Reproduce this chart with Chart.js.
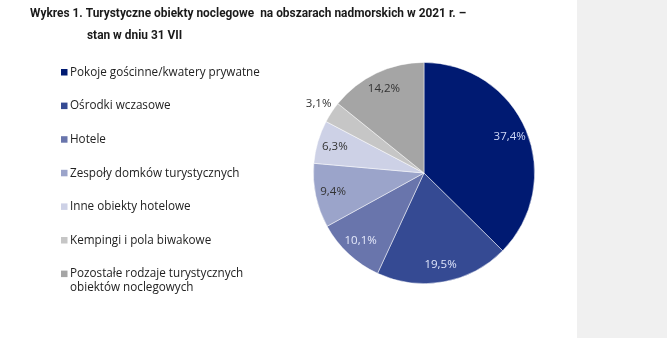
<!DOCTYPE html>
<html lang="pl">
<head>
<meta charset="utf-8">
<script src="https://cdn.jsdelivr.net/npm/chart.js@4"></script>
<style>
    html, body { margin: 0; padding: 0; background: #ffffff; }
    #wrap { position: relative; width: 667px; height: 338px; overflow: hidden; }
    #panel { position: absolute; left: 577px; top: 0; width: 90px; height: 338px; background: #f0f0f0; }
    #wykres { position: absolute; left: 0; top: 0; }
</style>
</head>
<body>
<div id="wrap">
    <div id="panel"></div>
    <canvas id="wykres" width="667" height="338"></canvas>
</div>
<script>
const kategorie = [
    'Pokoje gościnne/kwatery prywatne',
    'Ośrodki wczasowe',
    'Hotele',
    'Zespoły domków turystycznych',
    'Inne obiekty hotelowe',
    'Kempingi i pola biwakowe',
    ['Pozostałe rodzaje turystycznych', 'obiektów noclegowych']
];
const udzial = [37.4, 19.5, 10.1, 9.4, 6.3, 3.1, 14.2];
const kolory = ['#001a72', '#354a93', '#6975ac', '#9ba4ca', '#cdd1e6', '#c6c6c6', '#a5a5a5'];
const koloryEtykiet = ['#cfd8f6', '#dfe5fb', '#e6eafb', '#333333', '#333333', '#333333', '#333333'];
const tytul = [
    'Wykres 1. Turystyczne obiekty noclegowe  na obszarach nadmorskich w 2021 r. –',
    'stan w dniu 31 VII'
];

const fontTekst = '"Open Sans", "Noto Sans", sans-serif';
const fontTytul = '"Roboto", sans-serif';

// tytuł i legenda rysowane bezpośrednio na płótnie
const opisy = {
    id: 'opisy',
    afterDraw(chart) {
        const c = chart.ctx;
        c.save();
        c.fillStyle = '#1a1a1a';
        c.font = 'bold 13px ' + fontTytul;
        c.textBaseline = 'middle';
        c.textAlign = 'left';
        // węższy krój tytułu
        c.save();
        c.scale(0.915, 1);
        c.fillText(tytul[0], 30 / 0.915, 14);
        c.fillText(tytul[1], 87 / 0.915, 36);
        c.restore();

        c.font = '11.7px ' + fontTekst;
        kategorie.forEach((nazwa, i) => {
            const y = 72.5 + i * 33.6;
            c.fillStyle = kolory[i];
            c.fillRect(61, y - 3.5, 6.5, 6.5);
            c.fillStyle = '#222222';
            const linie = Array.isArray(nazwa) ? nazwa : [nazwa];
            linie.forEach((t, j) => c.fillText(t, 70, y + j * 13.5));
        });
        c.restore();
    }
};

// wartości procentowe w wycinkach (najmniejszy wycinek – poza kołem)
const wartosci = {
    id: 'wartosci',
    afterDatasetsDraw(chart) {
        const c = chart.ctx;
        const meta = chart.getDatasetMeta(0);
        c.save();
        c.font = '11.5px ' + fontTekst;
        c.textAlign = 'center';
        c.textBaseline = 'middle';
        meta.data.forEach((arc, i) => {
            const p = arc.getProps(['x', 'y', 'startAngle', 'endAngle', 'outerRadius']);
            const kat = (p.startAngle + p.endAngle) / 2;
            const k = udzial[i] < 5 ? 1.14 : 0.84;
            const x = p.x + Math.cos(kat) * p.outerRadius * k;
            const y = p.y + Math.sin(kat) * p.outerRadius * k;
            c.fillStyle = koloryEtykiet[i];
            c.fillText(udzial[i].toFixed(1).replace('.', ',') + '%', x, y);
        });
        c.restore();
    }
};

new Chart(document.getElementById('wykres'), {
    type: 'pie',
    data: {
        labels: kategorie,
        datasets: [{
            data: udzial,
            backgroundColor: kolory,
            borderColor: 'rgba(255,255,255,0.6)',
            borderWidth: 0.8
        }]
    },
    options: {
        responsive: false,
        animation: false,
        layout: { padding: { left: 313, right: 132, top: 62, bottom: 54 } },
        plugins: {
            legend: { display: false },
            tooltip: { enabled: false }
        }
    },
    plugins: [opisy, wartosci]
});
</script>
</body>
</html>
